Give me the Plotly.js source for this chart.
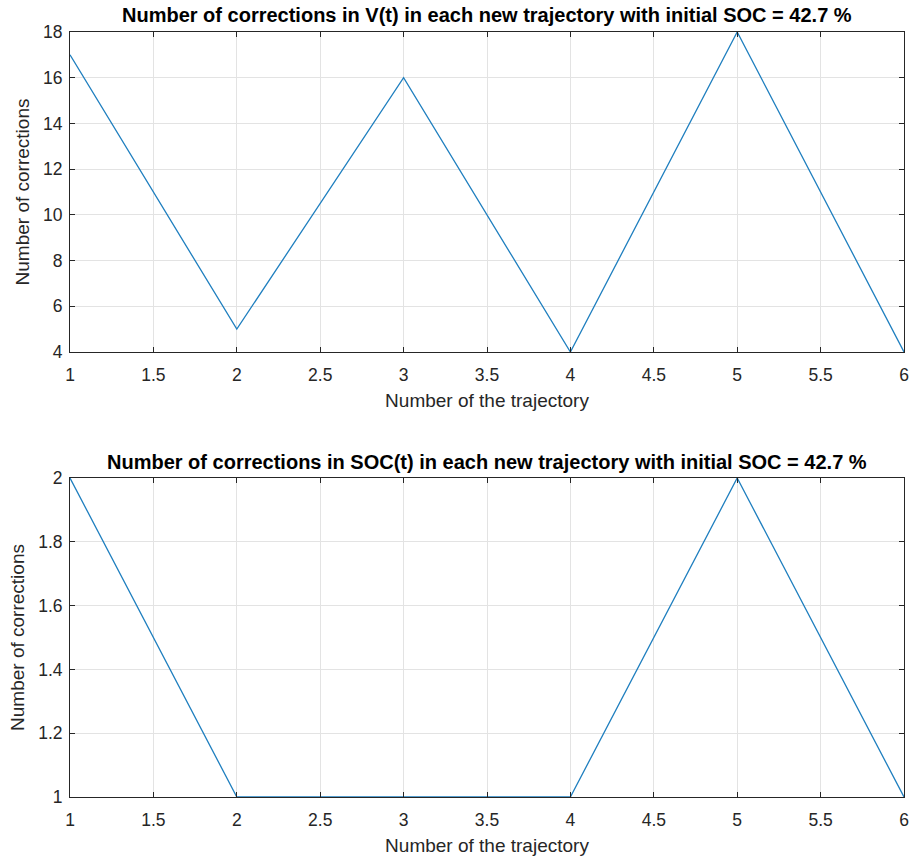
<!DOCTYPE html>
<html>
<head>
<meta charset="utf-8">
<script src="https://cdn.plot.ly/plotly-3.0.1.min.js"></script>
<style>html,body{margin:0;padding:0;background:#fff;}</style>
</head>
<body>
<div id="chart" style="width:920px;height:857px;"></div>
<script>
const trajectory = [1, 2, 3, 4, 5, 6];
const correctionsV = [17, 5, 16, 4, 18, 4];
const correctionsSOC = [2, 1, 1, 1, 2, 1];
const titleTop = "Number of corrections in V(t) in each new trajectory with initial SOC = 42.7 %";
const titleBottom = "Number of corrections in SOC(t) in each new trajectory with initial SOC = 42.7 %";
const xTitle = "Number of the trajectory";
const yTitle = "Number of corrections";

const font = "Liberation Sans, Arial, sans-serif";
const lineColor = "#1f7fbf";

const axisCommon = {
  showline: true, linecolor: "#262626", linewidth: 1, mirror: "ticks",
  ticks: "inside", ticklen: 5, tickcolor: "#262626", tickwidth: 1,
  showgrid: true, gridcolor: "#e3e3e3", gridwidth: 1, zeroline: false,
  tickfont: {family: font, size: 17.5, color: "#262626"}, fixedrange: true
};

const xExtra = {ticklabelstandoff: 7};
const yExtra = {ticklabelstandoff: 3};

const traces = [
  {x: trajectory, y: correctionsV, type: "scatter", mode: "lines",
   line: {color: lineColor, width: 1.3}, xaxis: "x", yaxis: "y", hoverinfo: "skip"},
  {x: trajectory, y: correctionsSOC, type: "scatter", mode: "lines",
   line: {color: lineColor, width: 1.3}, xaxis: "x2", yaxis: "y2", hoverinfo: "skip"}
];

const layout = {
  width: 920, height: 857,
  margin: {l: 70, r: 16, t: 32, b: 60},
  paper_bgcolor: "#ffffff", plot_bgcolor: "#ffffff",
  showlegend: false,
  xaxis: Object.assign({}, axisCommon, xExtra, {
    domain: [0, 1], anchor: "y", range: [1, 6], dtick: 0.5, tick0: 1,
    title: {text: xTitle, font: {family: font, size: 19, color: "#262626"}, standoff: 9}
  }),
  yaxis: Object.assign({}, axisCommon, yExtra, {
    domain: [0.5817, 1], anchor: "x", range: [4, 18], dtick: 2, tick0: 4,
    title: {text: yTitle, font: {family: font, size: 19, color: "#262626"}, standoff: 8}
  }),
  xaxis2: Object.assign({}, axisCommon, xExtra, {
    domain: [0, 1], anchor: "y2", range: [1, 6], dtick: 0.5, tick0: 1,
    title: {text: xTitle, font: {family: font, size: 19, color: "#262626"}, standoff: 9}
  }),
  yaxis2: Object.assign({}, axisCommon, yExtra, {
    domain: [0, 0.417], anchor: "x2", range: [1, 2], dtick: 0.2, tick0: 1,
    title: {text: yTitle, font: {family: font, size: 19, color: "#262626"}, standoff: 8}
  }),
  annotations: [
    {text: "<b>" + titleTop + "</b>", xref: "paper", yref: "paper", x: 0.5, y: 1,
     yshift: 17, xanchor: "center", yanchor: "middle", showarrow: false,
     font: {family: font, size: 20, color: "#000000"}},
    {text: "<b>" + titleBottom + "</b>", xref: "paper", yref: "paper", x: 0.5, y: 0.417,
     yshift: 16, xanchor: "center", yanchor: "middle", showarrow: false,
     font: {family: font, size: 20, color: "#000000"}}
  ]
};

Plotly.newPlot("chart", traces, layout, {staticPlot: true, displayModeBar: false});
</script>
</body>
</html>
